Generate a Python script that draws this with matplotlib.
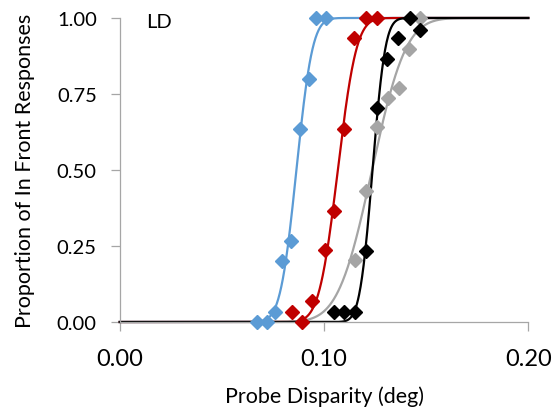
import math
import numpy as np
import matplotlib
matplotlib.use("Agg")
import matplotlib.pyplot as plt

plt.rcParams['font.family'] = ['Lato', 'DejaVu Sans']

# ---- data ----
blue_x = [0.0673, 0.0719, 0.0760, 0.0795, 0.0840, 0.0882, 0.0926, 0.0963, 0.1010]
blue_y = [0.0, 0.0, 0.034, 0.200, 0.267, 0.635, 0.800, 1.0, 1.0]

red_x = [0.0841, 0.0890, 0.0942, 0.1004, 0.1051, 0.1100, 0.1149, 0.1206, 0.1260]
red_y = [0.034, 0.0, 0.070, 0.238, 0.366, 0.635, 0.934, 1.0, 1.0]

gray_x = [0.1151, 0.1208, 0.1257, 0.1312, 0.1366, 0.1415, 0.1472]
gray_y = [0.205, 0.432, 0.640, 0.736, 0.769, 0.898, 1.0]

black_x = [0.1048, 0.1097, 0.1151, 0.1208, 0.1257, 0.1309, 0.1361, 0.1420, 0.1472]
black_y = [0.034, 0.034, 0.034, 0.235, 0.703, 0.865, 0.934, 1.0, 0.962]

series = [
    (blue_x, blue_y, '#5B9BD5'),
    (red_x, red_y, '#C00000'),
    (gray_x, gray_y, '#A5A5A5'),
    (black_x, black_y, '#000000'),
]

x_ticks = [0.0, 0.1, 0.2]
x_ticklabels = ['0.00', '0.10', '0.20']
y_ticks = [0.0, 0.25, 0.5, 0.75, 1.0]
y_ticklabels = ['0.00', '0.25', '0.50', '0.75', '1.00']

erf = np.vectorize(math.erf)


def cum_gauss(x, mu, sd):
    return 0.5 * (1.0 + erf((np.asarray(x) - mu) / (sd * math.sqrt(2.0))))


def fit(xs, ys):
    xs = np.asarray(xs); ys = np.asarray(ys)
    best = None
    for mu in np.linspace(0.06, 0.16, 401):
        for sd in np.linspace(0.001, 0.02, 191):
            err = np.sum((cum_gauss(xs, mu, sd) - ys) ** 2)
            if best is None or err < best[0]:
                best = (err, mu, sd)
    return best[1], best[2]


fig = plt.figure(figsize=(5.58, 4.10), dpi=100)
ax = fig.add_axes([0.2145, 0.2122, 0.9468 - 0.2145, 0.9537 - 0.2122])

xx = np.linspace(0.0, 0.2, 800)
for xs, ys, c in series:
    mu, sd = fit(xs, ys)
    ax.plot(xx, cum_gauss(xx, mu, sd), color=c, lw=1.6, zorder=2, clip_on=False)
    ax.plot(xs, ys, linestyle='none', marker='D', ms=7.5, color=c, zorder=3, clip_on=False)

ax.set_xlim(0, 0.2)
ax.set_ylim(0, 1)
ax.set_xticks(x_ticks)
ax.set_xticklabels(x_ticklabels)
ax.set_yticks(y_ticks)
ax.set_yticklabels(y_ticklabels)

for s in ['top', 'right']:
    ax.spines[s].set_visible(False)
for s in ['left', 'bottom']:
    ax.spines[s].set_color('#A6A6A6')
    ax.spines[s].set_linewidth(0.9)

ax.tick_params(axis='both', direction='out', length=6.5, width=0.9, color='#A6A6A6',
               labelcolor='black')
ax.tick_params(axis='x', pad=12, labelsize=17)
ax.tick_params(axis='y', pad=10, labelsize=14.5)

ax.set_xlabel('Probe Disparity (deg)', fontsize=15.5, labelpad=12)
ax.set_ylabel('Proportion of In Front Responses', fontsize=15.5, labelpad=16)

ax.text(0.013, 0.99, 'LD', fontsize=14.5, ha='left', va='center')

fig.savefig('out.png', dpi=100)
